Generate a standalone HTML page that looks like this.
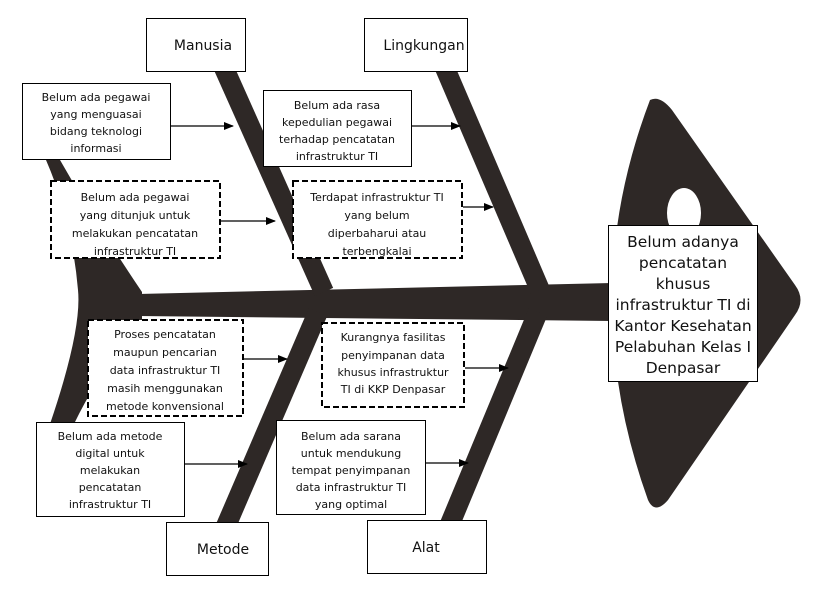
<!DOCTYPE html>
<html><head><meta charset="utf-8"><style>
html,body{margin:0;padding:0;background:#fff;}
svg text{font-family:"DejaVu Sans","Liberation Sans",sans-serif;font-size:11px;fill:#111;text-anchor:middle;}
.c{font-size:14px;}
.m{font-size:15.5px;}
</style></head><body>
<svg width="827" height="594" viewBox="0 0 827 594" xmlns="http://www.w3.org/2000/svg">
<defs>
<marker id="a" markerWidth="10" markerHeight="8" refX="9" refY="4" orient="auto" markerUnits="userSpaceOnUse"><path d="M0,0 L10,4 L0,8 z" fill="#000"/></marker>
<clipPath id="c3"><rect x="51" y="181" width="169" height="77"/></clipPath>
<clipPath id="c4"><rect x="293" y="181" width="169" height="77"/></clipPath>
<clipPath id="c8"><rect x="276" y="420" width="149" height="94"/></clipPath>
</defs>
<g fill="#2e2826">
<!-- tail -->
<path d="M46,160 L60,160 Q100,230 142,292 L142,320 Q100,370 74,424 L50,424 Q82,330 78,290 Q72,220 46,160 z"/>
<!-- spine -->
<path d="M138,294 L612,283 L612,321 L138,316 z"/>
<!-- head -->
<path d="M650,100 Q660,95 672,110 L795,285 Q806,300 795,315 L668,500 Q655,515 648,500 Q612,400 612,300 Q612,200 650,100 z"/>
</g>
<ellipse cx="684" cy="213" rx="17" ry="25" fill="#fff"/>
<!-- bones -->
<g stroke="#2e2826" stroke-width="20" stroke-linecap="butt">
<line x1="224" y1="68" x2="324" y2="292"/>
<line x1="445" y1="68" x2="540" y2="290"/>
<line x1="318" y1="312" x2="226" y2="526"/>
<line x1="538" y1="312" x2="450" y2="524"/>
</g>
<!-- category boxes -->
<g fill="#fff" stroke="#000" stroke-width="1">
<rect x="146.5" y="18.5" width="99" height="53"/>
<rect x="364.5" y="18.5" width="103" height="53"/>
<rect x="166.5" y="522.5" width="102" height="53"/>
<rect x="367.5" y="520.5" width="119" height="53"/>
<rect x="608.5" y="225.5" width="149" height="156"/>
<rect x="22.5" y="83.5" width="148" height="76"/>
<rect x="263.5" y="90.5" width="148" height="76"/>
<rect x="36.5" y="422.5" width="148" height="94"/>
<rect x="276.5" y="420.5" width="149" height="94"/>
</g>
<g fill="#fff" stroke="#000" stroke-width="2" stroke-dasharray="6,3">
<rect x="51" y="181" width="169" height="77"/>
<rect x="293" y="181" width="169" height="77"/>
<rect x="88" y="320" width="155" height="96"/>
<rect x="322" y="323" width="142" height="84"/>
</g>
<text class="c" x="203" y="50">Manusia</text>
<text class="c" x="424" y="50">Lingkungan</text>
<text class="c" x="223" y="554">Metode</text>
<text class="c" x="426" y="552">Alat</text>
<g class="m">
<text class="m" x="683" y="247">Belum adanya</text>
<text class="m" x="683" y="268">pencatatan</text>
<text class="m" x="683" y="289">khusus</text>
<text class="m" x="683" y="310">infrastruktur TI di</text>
<text class="m" x="683" y="331">Kantor Kesehatan</text>
<text class="m" x="683" y="352">Pelabuhan Kelas I</text>
<text class="m" x="683" y="373">Denpasar</text>
</g>
<text x="96" y="101">Belum ada pegawai</text>
<text x="96" y="118">yang menguasai</text>
<text x="96" y="135">bidang teknologi</text>
<text x="96" y="152">informasi</text>
<text x="337" y="109">Belum ada rasa</text>
<text x="337" y="126">kepedulian pegawai</text>
<text x="337" y="143">terhadap pencatatan</text>
<text x="337" y="160">infrastruktur TI</text>
<g clip-path="url(#c3)">
<text x="135" y="201">Belum ada pegawai</text>
<text x="135" y="219">yang ditunjuk untuk</text>
<text x="135" y="237">melakukan pencatatan</text>
<text x="135" y="255">infrastruktur TI</text>
</g>
<g clip-path="url(#c4)">
<text x="377" y="201">Terdapat infrastruktur TI</text>
<text x="377" y="219">yang belum</text>
<text x="377" y="237">diperbaharui atau</text>
<text x="377" y="255">terbengkalai</text>
</g>
<text x="165" y="338">Proses pencatatan</text>
<text x="165" y="356">maupun pencarian</text>
<text x="165" y="374">data infrastruktur TI</text>
<text x="165" y="392">masih menggunakan</text>
<text x="165" y="410">metode konvensional</text>
<text x="393" y="341">Kurangnya fasilitas</text>
<text x="393" y="359">penyimpanan data</text>
<text x="393" y="376">khusus infrastruktur</text>
<text x="393" y="393">TI di KKP Denpasar</text>
<text x="110" y="440">Belum ada metode</text>
<text x="110" y="457">digital untuk</text>
<text x="110" y="474">melakukan</text>
<text x="110" y="491">pencatatan</text>
<text x="110" y="508">infrastruktur TI</text>
<g clip-path="url(#c8)">
<text x="351" y="440">Belum ada sarana</text>
<text x="351" y="457">untuk mendukung</text>
<text x="351" y="474">tempat penyimpanan</text>
<text x="351" y="491">data infrastruktur TI</text>
<text x="351" y="508">yang optimal</text>
</g>
<g stroke="#000" stroke-width="1.2" marker-end="url(#a)">
<line x1="171" y1="126" x2="233" y2="126"/>
<line x1="412" y1="126" x2="460" y2="126"/>
<line x1="221" y1="221" x2="275" y2="221"/>
<line x1="463" y1="207" x2="493" y2="207"/>
<line x1="244" y1="359" x2="287" y2="359"/>
<line x1="465" y1="368" x2="508" y2="368"/>
<line x1="185" y1="464" x2="247" y2="464"/>
<line x1="426" y1="463" x2="468" y2="463"/>
</g>
</svg>
</body></html>
